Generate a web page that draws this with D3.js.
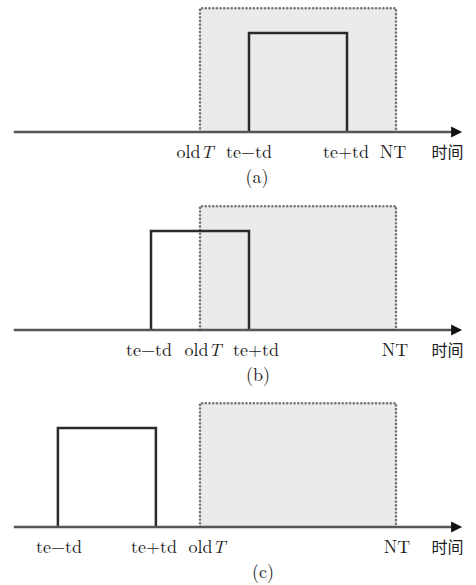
<!DOCTYPE html>
<html><head><meta charset="utf-8">
<script src="https://cdn.jsdelivr.net/npm/d3@7"></script>
<style>html,body{margin:0;padding:0;background:#fff;}svg{display:block;}</style>
</head><body>
<script>
// ---- data (time units; td = 1) ----
const panels = ["(a)", "(b)", "(c)"];
const pulseCenter = [6, 4, 2.1];       // te for each panel
const halfWidth = 1;                    // td
const oldT = 4;
const NT = 8;
const axisStart = 0.2, axisEnd = 9.35;
const pulseLevel = 1, windowLevel = 1.25;
const axisLabel = "时间";
// tick label lists per panel: [text, value]
const tickLabels = [
  [["oldT", oldT], ["te−td", 5], ["te+td", 7], ["NT", NT]],
  [["te−td", 3], ["oldT", oldT], ["te+td", 5], ["NT", NT]],
  [["te−td", 1.1], ["te+td", 3.1], ["oldT", oldT], ["NT", NT]]
];

// ---- layout ----
const W = 476, H = 585;
const axisY = [132, 330, 527];
const labelDx = [[-5, 0, -1, -3], [-2, 3, 7, -1], [1, -2, 7, 1]];
const svg = d3.select("body").append("svg").attr("width", W).attr("height", H);
const x = d3.scaleLinear().domain([0, 9.5]).range([4, 4 + 9.5 * 49]);
const serif = "'Latin Modern Roman','Liberation Serif','DejaVu Serif',serif";

panels.forEach((name, i) => {
  const y = d3.scaleLinear().domain([0, 1]).range([axisY[i], axisY[i] - 99]);
  const g = svg.append("g");
  // shaded observation window
  g.append("rect")
    .attr("x", x(oldT)).attr("y", y(windowLevel))
    .attr("width", x(NT) - x(oldT)).attr("height", y(0) - y(windowLevel))
    .attr("fill", "#ebebeb");
  g.append("path")
    .attr("d", d3.line()([[x(oldT), y(0)], [x(oldT), y(windowLevel)], [x(NT), y(windowLevel)], [x(NT), y(0)]]))
    .attr("fill", "none").attr("stroke", "#777").attr("stroke-width", 2.6)
    .attr("stroke-dasharray", "0.1,3.6").attr("stroke-linecap", "round");
  // pulse
  const te = pulseCenter[i];
  g.append("path")
    .attr("d", d3.line()([[x(te - halfWidth), y(0)], [x(te - halfWidth), y(pulseLevel)],
                          [x(te + halfWidth), y(pulseLevel)], [x(te + halfWidth), y(0)]]))
    .attr("fill", "none").attr("stroke", "#2a2a2a").attr("stroke-width", 2.5);
  // axis
  g.append("line")
    .attr("x1", x(axisStart)).attr("x2", x(axisEnd) - 8)
    .attr("y1", y(0)).attr("y2", y(0))
    .attr("stroke", "#555").attr("stroke-width", 2.4);
  g.append("path")
    .attr("d", `M${x(axisEnd)},${y(0)} L${x(axisEnd) - 11},${y(0) - 5.5} L${x(axisEnd) - 11},${y(0) + 5.5} Z`)
    .attr("fill", "#111");
  // tick labels
  tickLabels[i].forEach(([t, v], j) => {
    const txt = g.append("text")
      .attr("x", x(v) + labelDx[i][j]).attr("y", y(0) + 26)
      .attr("text-anchor", "middle")
      .attr("font-family", serif)
      .attr("font-size", 18).attr("fill", "#1a1a1a");
    if (t === "oldT") {
      txt.append("tspan").text("old");
      txt.append("tspan").attr("font-style", "italic").text("T");
    } else {
      txt.text(t);
    }
  });
  g.append("text")
    .attr("x", x(9.05)).attr("y", y(0) + 26)
    .attr("text-anchor", "middle")
    .attr("font-family", "'Noto Sans CJK SC',sans-serif")
    .attr("font-size", 16).attr("fill", "#1a1a1a")
    .text(axisLabel);
  // caption
  g.append("text")
    .attr("x", [257, 258, 263][i]).attr("y", y(0) + 51)
    .attr("text-anchor", "middle")
    .attr("font-family", serif)
    .attr("font-size", 18).attr("fill", "#1a1a1a")
    .text(name);
});
</script>
</body></html>
